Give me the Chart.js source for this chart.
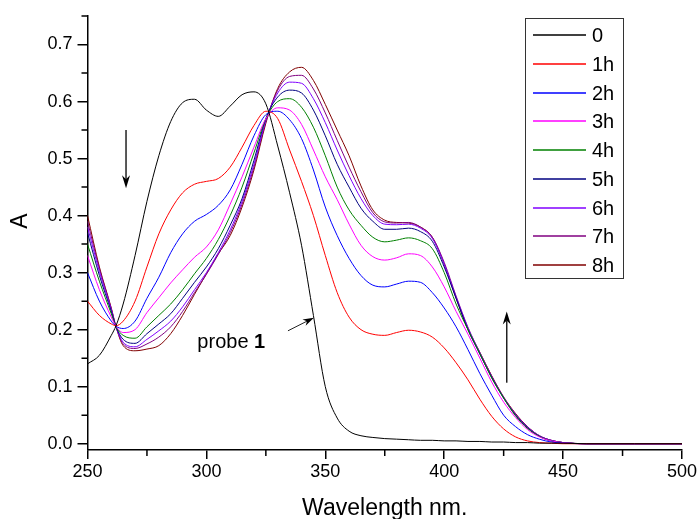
<!DOCTYPE html>
<html lang="en">
<head>
    <meta charset="UTF-8">
    <title>probe 1 spectra</title>
    <style>
        html, body { margin: 0; padding: 0; background: #fff; }
    </style>
</head>
<body>
    <canvas id="spectra" width="700" height="519"></canvas>
    <script src="https://cdn.jsdelivr.net/npm/chart.js@4.4.1/dist/chart.umd.min.js"></script>
    <script>
        // wavelength (nm)
        const wavelength = [250, 255, 260, 262, 265, 270, 275, 280, 285, 290, 295, 300, 305, 310, 315, 320, 325, 330, 335, 340,
            345, 350, 355, 360, 365, 370, 375, 380, 385, 390, 395, 400, 405, 410, 415, 420, 425, 430, 435, 440, 445, 450, 460, 480, 500]

        // absorbance per time
        const a0 = [0.140, 0.155, 0.190, 0.207, 0.245, 0.330, 0.425, 0.505, 0.565, 0.598, 0.604, 0.585, 0.574, 0.592, 0.612, 0.617, 0.596, 0.522, 0.440, 0.348,
            0.225, 0.100, 0.045, 0.022, 0.014, 0.011, 0.009, 0.008, 0.007, 0.006, 0.006, 0.005, 0.005, 0.004, 0.004, 0.003, 0.003, 0.002, 0.002, 0.001, 0.001, 0.001, 0, 0, 0]
        const a1 = [0.250, 0.225, 0.210, 0.207, 0.215, 0.250, 0.310, 0.368, 0.410, 0.440, 0.455, 0.460, 0.465, 0.485, 0.520, 0.558, 0.583, 0.570, 0.515, 0.460,
            0.400, 0.330, 0.265, 0.222, 0.200, 0.192, 0.190, 0.195, 0.199, 0.196, 0.187, 0.168, 0.142, 0.112, 0.078, 0.048, 0.026, 0.012, 0.005, 0.002, 0.001, 0, 0, 0, 0]
        const a2 = [0.300, 0.250, 0.215, 0.206, 0.202, 0.215, 0.255, 0.292, 0.335, 0.368, 0.390, 0.402, 0.418, 0.445, 0.490, 0.540, 0.577, 0.583, 0.568, 0.535,
            0.480, 0.415, 0.365, 0.325, 0.295, 0.278, 0.275, 0.280, 0.285, 0.283, 0.265, 0.238, 0.205, 0.165, 0.123, 0.085, 0.050, 0.030, 0.016, 0.008, 0.003, 0.001, 0, 0, 0]
        const a3 = [0.330, 0.270, 0.222, 0.206, 0.195, 0.200, 0.230, 0.256, 0.282, 0.305, 0.327, 0.345, 0.375, 0.420, 0.468, 0.520, 0.570, 0.589, 0.585, 0.560,
            0.515, 0.468, 0.428, 0.385, 0.348, 0.328, 0.322, 0.326, 0.333, 0.330, 0.310, 0.275, 0.232, 0.192, 0.150, 0.108, 0.073, 0.046, 0.025, 0.012, 0.005, 0.002, 0, 0, 0]
        const a4 = [0.350, 0.285, 0.228, 0.205, 0.190, 0.185, 0.205, 0.225, 0.245, 0.270, 0.298, 0.325, 0.358, 0.400, 0.450, 0.510, 0.570, 0.600, 0.605, 0.590,
            0.555, 0.505, 0.450, 0.410, 0.383, 0.362, 0.354, 0.357, 0.361, 0.356, 0.342, 0.300, 0.245, 0.200, 0.158, 0.115, 0.080, 0.049, 0.027, 0.013, 0.005, 0.002, 0, 0, 0]
        const a5 = [0.370, 0.295, 0.232, 0.205, 0.183, 0.176, 0.193, 0.210, 0.228, 0.255, 0.283, 0.310, 0.342, 0.383, 0.430, 0.497, 0.570, 0.608, 0.620, 0.615,
            0.585, 0.540, 0.490, 0.450, 0.413, 0.390, 0.376, 0.376, 0.378, 0.372, 0.355, 0.310, 0.255, 0.200, 0.157, 0.116, 0.080, 0.050, 0.028, 0.013, 0.005, 0.002, 0, 0, 0]
        const a6 = [0.380, 0.302, 0.235, 0.205, 0.178, 0.170, 0.183, 0.198, 0.215, 0.240, 0.270, 0.300, 0.335, 0.375, 0.425, 0.490, 0.567, 0.615, 0.634, 0.632,
            0.605, 0.563, 0.515, 0.470, 0.430, 0.400, 0.385, 0.384, 0.385, 0.378, 0.360, 0.315, 0.257, 0.203, 0.159, 0.117, 0.081, 0.051, 0.029, 0.014, 0.006, 0.002, 0, 0, 0]
        const a7 = [0.390, 0.307, 0.237, 0.205, 0.175, 0.167, 0.175, 0.187, 0.205, 0.232, 0.265, 0.297, 0.332, 0.370, 0.420, 0.485, 0.565, 0.620, 0.644, 0.646,
            0.622, 0.580, 0.532, 0.485, 0.442, 0.405, 0.389, 0.387, 0.388, 0.380, 0.362, 0.318, 0.259, 0.204, 0.160, 0.118, 0.081, 0.052, 0.030, 0.014, 0.006, 0.002, 0, 0, 0]
        const a8 = [0.400, 0.310, 0.238, 0.205, 0.172, 0.163, 0.166, 0.172, 0.193, 0.225, 0.262, 0.298, 0.333, 0.365, 0.415, 0.480, 0.562, 0.623, 0.652, 0.660,
            0.637, 0.595, 0.550, 0.505, 0.452, 0.410, 0.392, 0.388, 0.387, 0.380, 0.362, 0.315, 0.255, 0.200, 0.160, 0.119, 0.082, 0.053, 0.030, 0.014, 0.006, 0.002, 0, 0, 0]

        const seriesLabels = ['0', '1h', '2h', '3h', '4h', '5h', '6h', '7h', '8h']
        const xTicks = [250, 300, 350, 400, 450, 500]
        const yTicks = [0.0, 0.1, 0.2, 0.3, 0.4, 0.5, 0.6, 0.7]

        const series = [a0, a1, a2, a3, a4, a5, a6, a7, a8]
        const colors = ['#000000', '#ff0000', '#0000ff', '#ff00ff', '#008000', '#000080', '#8000ff', '#800080', '#800000']

        const FONT = "'Liberation Sans', Arial, sans-serif"
        Chart.defaults.font.family = FONT
        Chart.defaults.color = '#000'

        // 작은 눈금
        const minorTicks = {
            id: 'minorTicks',
            afterDraw(chart) {
                const { ctx, chartArea, scales } = chart
                ctx.save()
                ctx.strokeStyle = '#000'
                ctx.lineWidth = 1.5
                ctx.beginPath()
                for (let i = 0; i < xTicks.length - 1; i++) {
                    const px = scales.x.getPixelForValue((xTicks[i] + xTicks[i + 1]) / 2)
                    ctx.moveTo(px, chartArea.bottom)
                    ctx.lineTo(px, chartArea.bottom + 6)
                }
                const step = yTicks[1] - yTicks[0]
                yTicks.forEach(v => {
                    const val = v + step / 2
                    if (val > scales.y.max + 1e-9) return
                    const py = scales.y.getPixelForValue(val)
                    ctx.moveTo(chartArea.left, py)
                    ctx.lineTo(chartArea.left - 6, py)
                })
                ctx.stroke()

                // y축 제목
                ctx.translate(21, chartArea.top + 205)
                ctx.rotate(-Math.PI / 2)
                ctx.font = '23px ' + FONT
                ctx.fillStyle = '#000'
                ctx.textAlign = 'center'
                ctx.textBaseline = 'middle'
                ctx.fillText('A', 0, 0)
                ctx.restore()
            }
        }

        function arrow(ctx, x1, y1, x2, y2, len, half) {
            const ang = Math.atan2(y2 - y1, x2 - x1)
            ctx.beginPath()
            ctx.moveTo(x1, y1)
            ctx.lineTo(x2 - Math.cos(ang) * len * 0.7, y2 - Math.sin(ang) * len * 0.7)
            ctx.stroke()
            ctx.beginPath()
            ctx.moveTo(x2, y2)
            ctx.lineTo(x2 - Math.cos(ang) * len - Math.sin(ang) * half, y2 - Math.sin(ang) * len + Math.cos(ang) * half)
            ctx.lineTo(x2 - Math.cos(ang) * len * 0.7, y2 - Math.sin(ang) * len * 0.7)
            ctx.lineTo(x2 - Math.cos(ang) * len + Math.sin(ang) * half, y2 - Math.sin(ang) * len - Math.cos(ang) * half)
            ctx.closePath()
            ctx.fill()
        }

        // 화살표, 라벨
        const notes = {
            id: 'notes',
            afterDatasetsDraw(chart) {
                const { ctx, scales: { x, y } } = chart
                ctx.save()
                ctx.strokeStyle = '#222'
                ctx.fillStyle = '#000'
                ctx.lineWidth = 1.5
                arrow(ctx, x.getPixelForValue(266.2), y.getPixelForValue(0.55), x.getPixelForValue(266.2), y.getPixelForValue(0.448), 13, 4)
                arrow(ctx, x.getPixelForValue(426.3), y.getPixelForValue(0.107), x.getPixelForValue(426.3), y.getPixelForValue(0.232), 13, 4)
                ctx.lineWidth = 1
                arrow(ctx, x.getPixelForValue(334.3), y.getPixelForValue(0.198), x.getPixelForValue(345.2), y.getPixelForValue(0.221), 11, 3.5)

                const tx = x.getPixelForValue(296.2)
                const ty = y.getPixelForValue(0.178)
                ctx.textBaseline = 'middle'
                ctx.textAlign = 'left'
                ctx.font = '20px ' + FONT
                ctx.fillText('probe ', tx, ty)
                const w = ctx.measureText('probe ').width
                ctx.font = 'bold 20px ' + FONT
                ctx.fillText('1', tx + w, ty)
                ctx.restore()
            }
        }

        // 범례 상자
        const boxLegend = {
            id: 'boxLegend',
            afterDraw(chart) {
                const { ctx, chartArea } = chart
                const left = Math.round(chartArea.right - 157)
                const top = Math.round(chartArea.top + 2)
                const w = 98, h = 260, row = 28.75
                ctx.save()
                ctx.fillStyle = '#fff'
                ctx.fillRect(left, top, w, h)
                ctx.strokeStyle = '#333'
                ctx.lineWidth = 1
                ctx.strokeRect(left + 0.5, top + 0.5, w, h)
                ctx.font = '20px ' + FONT
                ctx.textBaseline = 'middle'
                ctx.textAlign = 'left'
                chart.data.datasets.forEach((ds, i) => {
                    const cy = Math.round(top + 17 + i * row)
                    ctx.strokeStyle = ds.borderColor
                    ctx.lineWidth = 1.5
                    ctx.beginPath()
                    ctx.moveTo(left + 8, cy)
                    ctx.lineTo(left + 61, cy)
                    ctx.stroke()
                    ctx.fillStyle = '#000'
                    ctx.fillText(ds.label, left + 67, cy + 1)
                })
                ctx.restore()
            }
        }

        new Chart(document.querySelector('#spectra'), {
            type: 'line',
            data: {
                datasets: series.map((s, i) => ({
                    label: seriesLabels[i],
                    data: wavelength.map((w, j) => ({ x: w, y: s[j] })),
                    borderColor: colors[i],
                    borderWidth: 1,
                    pointRadius: 0,
                    cubicInterpolationMode: 'monotone',
                    fill: false,
                })),
            },
            options: {
                responsive: false,
                animation: false,
                layout: { padding: { top: 16, right: 18, left: 0, bottom: 0 } },
                plugins: {
                    legend: { display: false },
                    tooltip: { enabled: false },
                },
                scales: {
                    x: {
                        type: 'linear',
                        min: 250,
                        max: 500,
                        afterBuildTicks: s => { s.ticks = xTicks.map(v => ({ value: v })) },
                        afterFit: s => { s.height = 69 },
                        ticks: { font: { size: 18 }, color: '#000', padding: 2, maxRotation: 0, autoSkip: false },
                        grid: { display: true, drawOnChartArea: false, drawTicks: true, tickLength: 9, color: '#000', lineWidth: 1.5 },
                        border: { display: true, color: '#000', width: 1.5 },
                        title: { display: true, text: 'Wavelength nm.', color: '#000', font: { size: 23, lineHeight: 0.9 }, padding: 0 },
                    },
                    y: {
                        min: -0.011,
                        max: 0.75,
                        afterBuildTicks: s => { s.ticks = yTicks.map(v => ({ value: v })) },
                        afterFit: s => { s.width = 87.5 },
                        ticks: { font: { size: 18 }, color: '#000', padding: 5, callback: v => v.toFixed(1) },
                        grid: { display: true, drawOnChartArea: false, drawTicks: true, tickLength: 10, color: '#000', lineWidth: 1.5 },
                        border: { display: true, color: '#000', width: 1.5 },
                    },
                },
            },
            plugins: [minorTicks, notes, boxLegend],
        })
    </script>
</body>
</html>
